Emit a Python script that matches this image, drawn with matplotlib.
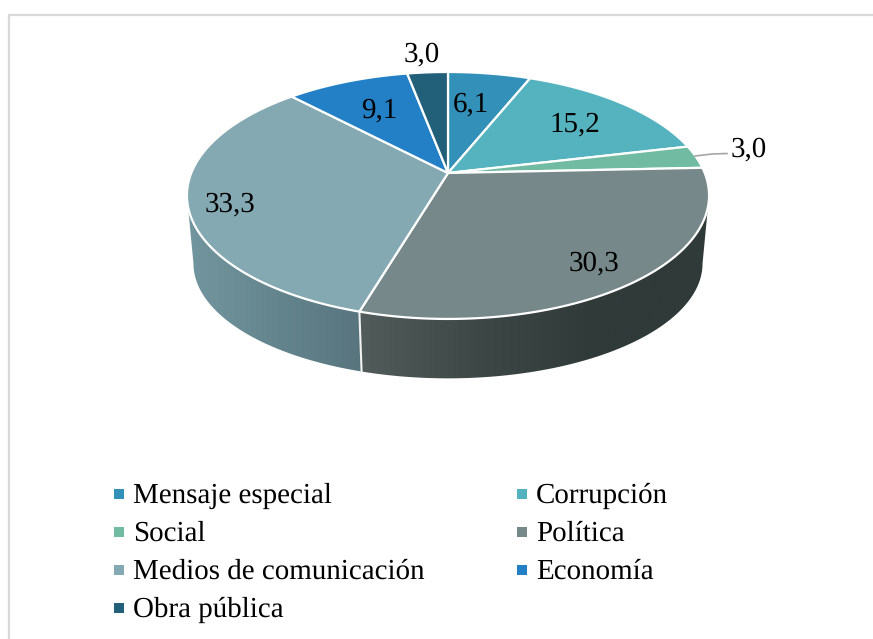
import matplotlib
matplotlib.use('Agg')
import matplotlib.pyplot as plt
from matplotlib.colors import LinearSegmentedColormap
from matplotlib.patches import Polygon
import numpy as np

categories = ['Mensaje especial', 'Corrupción', 'Social', 'Política',
              'Medios de comunicación', 'Economía', 'Obra pública']
values = [6.1, 15.2, 3.0, 30.3, 33.3, 9.1, 3.0]
value_labels = ['6,1', '15,2', '3,0', '30,3', '33,3', '9,1', '3,0']
colors = ['#3391b9', '#55b3bf', '#72bba3', '#768889', '#84a9b3', '#2480c6', '#22607a']

# left / right colour of the visible side walls, by slice index
side_shades = {
    3: ['#303a39', '#303a39', '#3e4847', '#525c5b'],
    4: ['#58757e', '#72969f'],
}

# label centres in pixels
label_pos = [(471, 105), (575, 125), (749, 150), (594, 264), (230, 205), (379, 111), (422, 55)]
legend_pos = [(119, 494), (522, 494), (119, 532), (522, 532), (119, 570), (522, 570), (119, 608)]

# pie geometry in pixels, fitted from the reference
CX, CY = 448, 173
R = 256.7
A, C = -87.9, 0.182
ELL_CY, BOT_CY = 196, 264
BOT_KX, BOT_KY = 0.975, 0.93
# rim angles where the pie outline is widest, the walls stop there
WALL_FROM, WALL_TO = np.radians(100.5), np.radians(259.5)


def top_rim(theta):
    """Perspective projection of the pie rim, theta clockwise from 12 o'clock."""
    u, v = np.sin(theta), np.cos(theta)
    d = 1 + C * v
    return CX + R * u / d, (A * v + CY) / d


def bottom_rim(theta):
    x, y = top_rim(theta)
    return CX + (x - CX) * BOT_KX, BOT_CY + (y - ELL_CY) * BOT_KY


plt.rcParams['font.family'] = ['Liberation Serif', 'DejaVu Serif']
plt.rcParams['text.hinting'] = 'no_hinting'
plt.rcParams['text.hinting_factor'] = 1
fig = plt.figure(figsize=(8.73, 6.39), dpi=100)
ax = fig.add_axes([0, 0, 1, 1])
ax.set_xlim(0, 873)
ax.set_ylim(639, 0)
ax.axis('off')

# chart frame
ax.plot([8.5, 8.5, 873], [639, 14.5, 14.5], color='#d9d9d9', lw=1.6, solid_joinstyle='miter')

edges = np.radians(np.cumsum([0] + values) * 3.6)

# side walls
for i, shades in side_shades.items():
    t = np.linspace(max(edges[i], WALL_FROM), min(edges[i + 1], WALL_TO), 200)
    tx, ty = top_rim(t)
    bx, by = bottom_rim(t)
    pts = np.column_stack([np.r_[tx, bx[::-1]], np.r_[ty, by[::-1]]])
    clip = Polygon(pts, closed=True, transform=ax.transData, fc='none', ec='none')
    ax.add_patch(clip)
    cmap = LinearSegmentedColormap.from_list('side', shades)
    ramp = np.linspace(1, 0, 256).reshape(1, -1)
    im = ax.imshow(ramp, cmap=cmap, extent=[pts[:, 0].min(), pts[:, 0].max(), 400, 150],
                   aspect='auto', zorder=2)
    im.set_clip_path(clip)
ax.set_xlim(0, 873)
ax.set_ylim(639, 0)

# seam between the two walls
sx, sy = top_rim(edges[4])
sbx, sby = bottom_rim(edges[4])
ax.plot([sx, sbx], [sy, sby], color='#f2f2f2', lw=1.5, zorder=3)

# top face
for i, col in enumerate(colors):
    t = np.linspace(edges[i], edges[i + 1], 120)
    x, y = top_rim(t)
    pts = np.column_stack([np.r_[CX, x], np.r_[CY, y]])
    ax.add_patch(Polygon(pts, closed=True, fc=col, ec='white', lw=1.6,
                         joinstyle='round', zorder=4))

# data labels
for lab, (x, y) in zip(value_labels, label_pos):
    ax.text(x, y, lab, fontsize=21, color='black', ha='center', va='center', zorder=6)

# leader line for Social
ax.plot([695, 712, 727], [156, 154, 153.5], color='#a6a6a6', lw=1.2, zorder=5)

# legend
for name, col, (x, y) in zip(categories, colors, legend_pos):
    ax.scatter([x], [y], marker='s', s=58, color=col, linewidths=0, zorder=6)
    ax.text(x + 14, y + 1.5, name, fontsize=21, color='black', ha='left', va='center', zorder=6)

fig.savefig('out.png', dpi=100)
